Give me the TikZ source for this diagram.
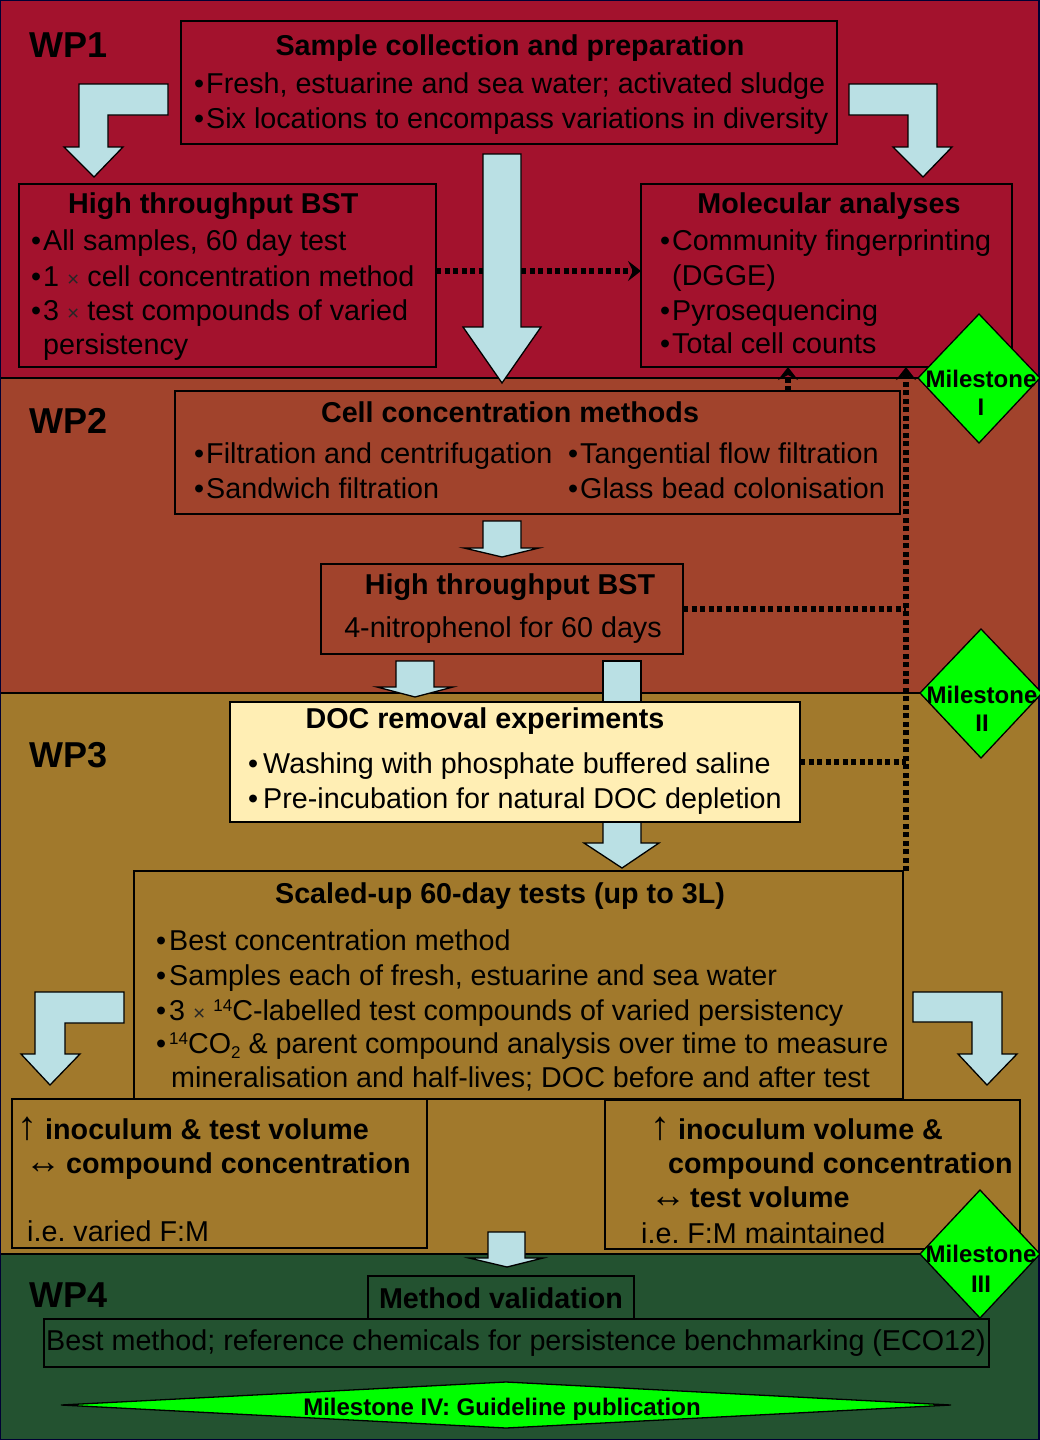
\documentclass[tikz,border=0pt]{standalone}
\usepackage{fontspec}
\setmainfont{Liberation Sans}
\usetikzlibrary{arrows.meta}
\definecolor{wpA}{RGB}{163,18,45}
\definecolor{wpB}{RGB}{161,67,44}
\definecolor{wpC}{RGB}{161,121,44}
\definecolor{wpD}{RGB}{35,82,48}
\definecolor{arr}{RGB}{186,224,228}
\definecolor{docf}{RGB}{255,238,180}
\definecolor{msg}{RGB}{0,255,0}
\frenchspacing
\newcommand\fs[1]{\fontsize{#1}{#1}\selectfont}
\newcommand\bul[1][2pt]{•\hspace{#1}}
\newcommand\tms{{\fs{21}\color{black!85}×}}
\newcommand\sups[1]{\raisebox{9pt}{\fs{17}#1}}
\newcommand\subs[1]{\raisebox{-5pt}{\fs{17}#1}}
\newcommand\uparr{{\fs{40}\mdseries ↑}}
\newcommand\lrarr{{\fs{36}\mdseries ↔}}
\newcommand\bx[6][]{\node[box,#1,minimum width={(#5-#3)*1pt},minimum height={(#6-#4)*1pt}] (#2) at ({(#3+#5)/2},{(#4+#6)/2}) {};}
\begin{document}
\begin{tikzpicture}[x=1pt,y=-1pt,
  box/.style={draw=black,line width=1.3pt,inner sep=0pt,outer sep=0pt},
  blk/.style={fill=arr,draw=black,line width=1.3pt},
  dotl/.style={line width=5.5pt,dash pattern=on 5pt off 3.5pt},
  tipA/.style={-{Stealth[length=13pt,width=20pt,inset=5pt]}},
  txt/.style={anchor=base west,inner sep=0pt,font=\fs{28.7}},
  btxt/.style={anchor=base west,inner sep=0pt,font=\fs{28.7}\bfseries},
  hdr/.style={anchor=base,inner sep=0pt,font=\fs{28.7}\bfseries},
  ctxt/.style={anchor=base,inner sep=0pt,font=\fs{28.7}},
  wp/.style={anchor=base west,inner sep=0pt,font=\fs{36}\bfseries},
  ms/.style={anchor=base,inner sep=0pt,font=\fs{24}\bfseries},
  msd/.style={fill=msg,draw=black,line width=1.3pt}]
\useasboundingbox (0,0) rectangle (1039,1440);
% bands
\fill[wpA] (0,0) rectangle (1039,378);
\fill[wpB] (0,378) rectangle (1039,693);
\fill[wpC] (0,693) rectangle (1039,1254);
\fill[wpD] (0,1254) rectangle (1039,1440);
\draw[line width=1.3pt] (0,378) -- (1039,378) (0,693) -- (1039,693) (0,1254) -- (1039,1254);
\draw[line width=2.5pt,black!80!blue] (0,0) rectangle (1039,1440);
% boxes
\bx{samp}{181}{21}{837}{144}
\bx{bsta}{19}{184}{436}{367}
\bx{mol}{641}{184}{1012}{367}
\bx{cell}{175}{391}{900}{514}
\bx{bstb}{321}{564}{683}{654}
\bx{scal}{134}{871}{903}{1099}
\bx{lbox}{12}{1099}{427}{1248}
\bx{rbox}{605}{1100}{1020}{1249}
\bx{mval}{368}{1276}{634}{1319}
\bx{best}{44}{1319}{989}{1367}
% dotted connectors
\coordinate (xa) at (788,0);
\coordinate (xb) at (906,0);
\draw[dotl,tipA] ([yshift=4.5pt]bsta.east) -- ([yshift=4.5pt]mol.west);
\draw[dotl,tipA] (xa |- cell.north) -- (xa |- mol.south);
\draw[dotl,tipA] (xb |- scal.north) -- (xb |- mol.south);
\draw[dotl] (bstb.east) -- (bstb.east -| xb);
% block arrows
\draw[blk] (168,84) -- (79,84) -- (79,147) -- (64,147) -- (94,177) -- (123,147) -- (108,147) -- (108,115) -- (168,115) -- cycle;
\draw[blk] (849,84) -- (937,84) -- (937,147) -- (952,147) -- (923,177) -- (893,147) -- (908,147) -- (908,115) -- (849,115) -- cycle;
\draw[blk] (483,154) -- (521,154) -- (521,327) -- (541,327) -- (502,383) -- (463,327) -- (483,327) -- cycle;
\draw[blk] (483,521) -- (521,521) -- (521,548) -- (539,548) -- (502,557) -- (464,548) -- (483,548) -- cycle;
\draw[blk] (396,661) -- (434,661) -- (434,687) -- (453,687) -- (415,697) -- (377,687) -- (396,687) -- cycle;
\draw[blk] (603,661) rectangle (641,708);
\draw[blk] (603,822) -- (641,822) -- (641,843) -- (659,843) -- (622,868) -- (584,843) -- (603,843) -- cycle;
\draw[blk] (124,992) -- (35,992) -- (35,1054) -- (21,1054) -- (50,1085) -- (80,1054) -- (65,1054) -- (65,1023) -- (124,1023) -- cycle;
\draw[blk] (913,992) -- (1002,992) -- (1002,1054) -- (1017,1054) -- (987,1085) -- (958,1054) -- (972,1054) -- (972,1022) -- (913,1022) -- cycle;
\draw[blk] (488,1232) -- (525,1232) -- (525,1258) -- (543,1258) -- (507,1267) -- (469,1258) -- (488,1258) -- cycle;
% DOC box (filled, on top of arrow shaft)
\bx[fill=docf]{doc}{230}{702}{800}{822}
\draw[dotl] (doc.east) -- (doc.east -| xb);
% milestones
\path[msd] (918,378) -- (979,314) -- (1040,378) -- (979,443) -- cycle;
\path[msd] (920,693) -- (981,629) -- (1042,693) -- (981,758) -- cycle;
\path[msd] (920,1254) -- (980,1190) -- (1040,1254) -- (980,1318) -- cycle;
\path[msd] (61,1405) -- (506,1382) -- (951,1405) -- (506,1428) -- cycle;
% texts WP1
\node[wp] at (29,57) {WP1};
\node[hdr] at (510,55) {Sample collection and preparation};
\node[txt] at (194,93) {\bul Fresh, estuarine and sea water; activated sludge};
\node[txt] at (194,128) {\bul Six locations to encompass variations in diversity};
\node[btxt] at (68,213) {High throughput BST};
\node[txt] at (31,250) {\bul All samples, 60 day test};
\node[txt] at (31,286) {\bul 1 \tms{} cell concentration method};
\node[txt] at (31,320) {\bul 3 \tms{} test compounds of varied};
\node[txt] at (43,354) {persistency};
\node[hdr] at (829,213) {Molecular analyses};
\node[txt] at (660,250) {\bul Community fingerprinting};
\node[txt] at (672,285) {(DGGE)};
\node[txt] at (660,320) {\bul Pyrosequencing};
\node[txt] at (660,353) {\bul Total cell counts};
% WP2
\node[wp] at (29,433) {WP2};
\node[hdr] at (510,422) {Cell concentration methods};
\node[txt] at (194,463) {\bul Filtration and centrifugation};
\node[txt] at (194,498) {\bul Sandwich filtration};
\node[txt] at (568,463) {\bul Tangential flow filtration};
\node[txt] at (568,498) {\bul Glass bead colonisation};
\node[hdr] at (510,594) {High throughput BST};
\node[ctxt] at (503,637) {4-nitrophenol for 60 days};
% WP3
\node[wp] at (29,767) {WP3};
\node[hdr] at (485,728) {DOC removal experiments};
\node[txt] at (248,773) {\bul[5pt]Washing with phosphate buffered saline};
\node[txt] at (248,808) {\bul[5pt]Pre-incubation for natural DOC depletion};
\node[hdr] at (500,903) {Scaled-up 60-day tests (up to 3L)};
\node[txt] at (156,950) {\bul[3pt]Best concentration method};
\node[txt] at (156,985) {\bul[3pt]Samples each of fresh, estuarine and sea water};
\node[txt] at (156,1020) {\bul[3pt]3 \tms{} \sups{14}C-labelled test compounds of varied persistency};
\node[txt] at (156,1053) {\bul[3pt]\sups{14}CO\subs{2} \& parent compound analysis over time to measure};
\node[txt] at (171,1087) {mineralisation and half-lives; DOC before and after test};
\node[txt] at (17,1139) {\uparr};
\node[btxt] at (45,1139) {inoculum \& test volume};
\node[txt] at (25,1173) {\lrarr};
\node[btxt] at (66,1173) {compound concentration};
\node[txt] at (27,1241) {i.e. varied F:M};
\node[txt] at (650,1139) {\uparr};
\node[btxt] at (678,1139) {inoculum volume \&};
\node[btxt] at (668,1173) {compound concentration};
\node[txt] at (650,1207) {\lrarr};
\node[btxt] at (690,1207) {test volume};
\node[txt] at (641,1243) {i.e. F:M maintained};
% WP4
\node[wp] at (29,1307) {WP4};
\node[hdr] at (501,1308) {Method validation};
\node[ctxt] at (516,1350) {Best method; reference chemicals for persistence benchmarking (ECO12)};
\node[ms] at (502,1415) {Milestone IV: Guideline publication};
% milestone labels
\node[ms] at (981,387) {Milestone};
\node[ms] at (981,415) {I};
\node[ms] at (982,703) {Milestone};
\node[ms] at (982,731) {II};
\node[ms] at (981,1262) {Milestone};
\node[ms] at (981,1292) {III};
\end{tikzpicture}
\end{document}
